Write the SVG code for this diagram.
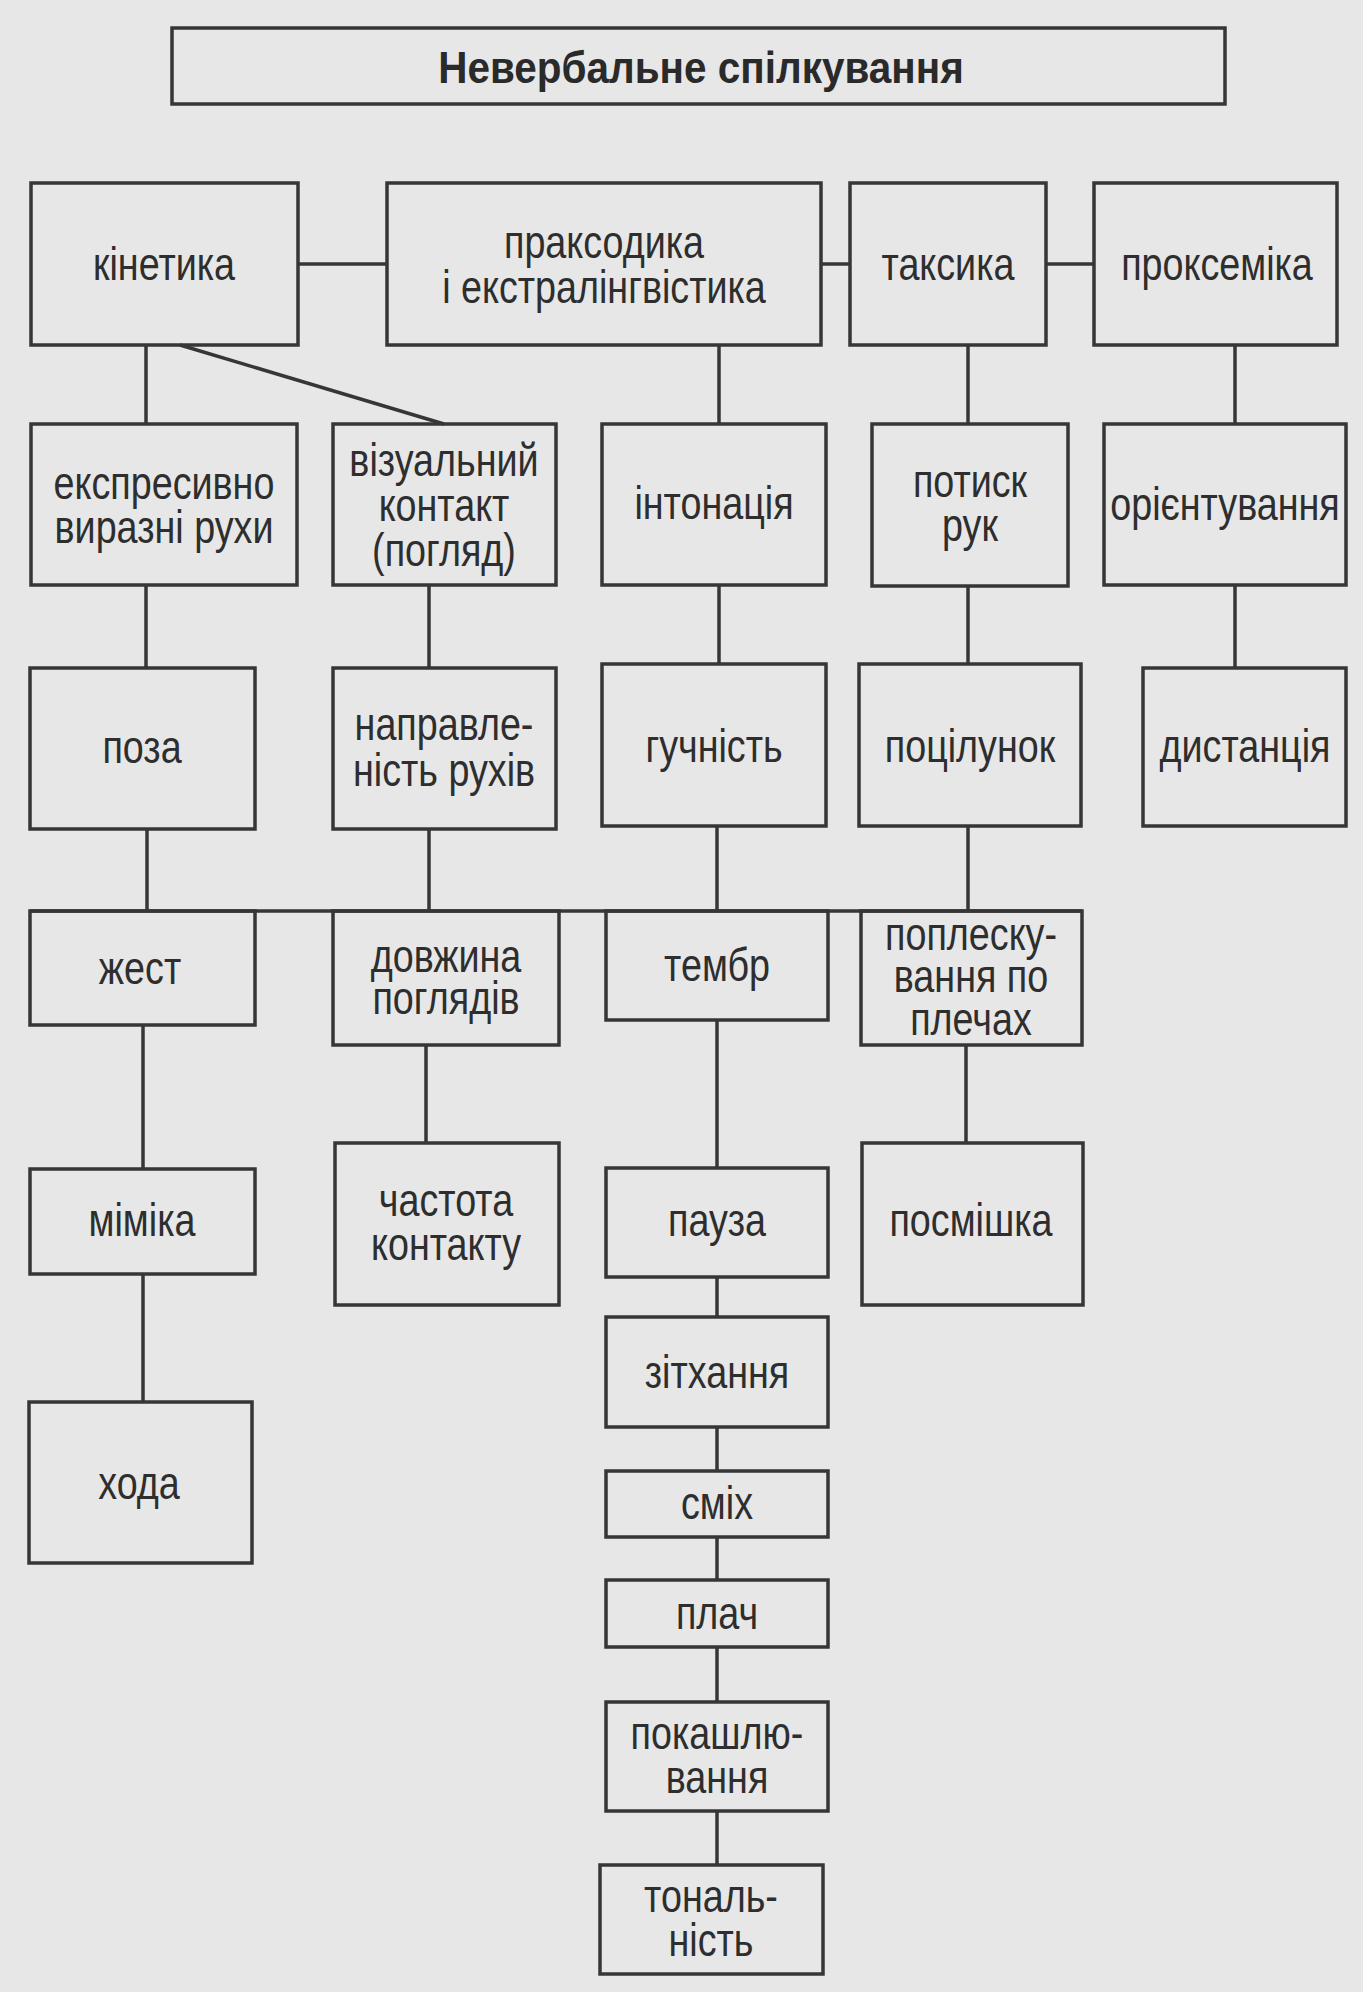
<svg xmlns="http://www.w3.org/2000/svg" width="1363" height="1992" viewBox="0 0 1363 1992">
<style>
.bg{fill:#e7e7e7}
.box{fill:none;stroke:#363636;stroke-width:3.5}
.ln{stroke:#363636;stroke-width:3.5;fill:none}
.t{font-family:"Liberation Sans",Arial,sans-serif;font-size:46px;fill:#2e2e2e;text-anchor:middle}
.title{font-family:"Liberation Sans",Arial,sans-serif;font-size:44px;font-weight:bold;fill:#2a2a2a;text-anchor:middle}
</style>
<rect class="bg" x="0" y="0" width="1363" height="1992"/>
<g id="connectors">
<line class="ln" x1="298" y1="264" x2="387" y2="264"/>
<line class="ln" x1="821" y1="264" x2="850" y2="264"/>
<line class="ln" x1="1046" y1="264" x2="1094" y2="264"/>
<line class="ln" x1="146" y1="345" x2="146" y2="424"/>
<line class="ln" x1="180" y1="345" x2="444" y2="424"/>
<line class="ln" x1="719" y1="345" x2="719" y2="424"/>
<line class="ln" x1="968" y1="345" x2="968" y2="424"/>
<line class="ln" x1="1235" y1="345" x2="1235" y2="424"/>
<line class="ln" x1="146" y1="585" x2="146" y2="668"/>
<line class="ln" x1="429" y1="585" x2="429" y2="668"/>
<line class="ln" x1="719" y1="585" x2="719" y2="664"/>
<line class="ln" x1="968" y1="585" x2="968" y2="664"/>
<line class="ln" x1="1235" y1="585" x2="1235" y2="668"/>
<line class="ln" x1="147" y1="829" x2="147" y2="911"/>
<line class="ln" x1="429" y1="829" x2="429" y2="911"/>
<line class="ln" x1="717" y1="826" x2="717" y2="911"/>
<line class="ln" x1="968" y1="826" x2="968" y2="911"/>
<line class="ln" x1="30" y1="911" x2="1082" y2="911"/>
<line class="ln" x1="143" y1="1025" x2="143" y2="1169"/>
<line class="ln" x1="426" y1="1045" x2="426" y2="1143"/>
<line class="ln" x1="717" y1="1020" x2="717" y2="1168"/>
<line class="ln" x1="966" y1="1045" x2="966" y2="1143"/>
<line class="ln" x1="143" y1="1274" x2="143" y2="1402"/>
<line class="ln" x1="717" y1="1277" x2="717" y2="1317"/>
<line class="ln" x1="717" y1="1427" x2="717" y2="1471"/>
<line class="ln" x1="717" y1="1537" x2="717" y2="1580"/>
<line class="ln" x1="717" y1="1647" x2="717" y2="1702"/>
<line class="ln" x1="717" y1="1811" x2="717" y2="1865"/>
</g>
<g id="title"><rect class="box" x="172" y="28" width="1053" height="76"/><text class="title" transform="translate(701 83) scale(0.92 1)">Невербальне спілкування</text></g>
<g id="kinetyka"><rect class="box" x="31" y="183" width="267" height="162"/><text class="t" transform="translate(164 280) scale(0.82 1)">кінетика</text></g>
<g id="praksodyka"><rect class="box" x="387" y="183" width="434" height="162"/><text class="t" transform="translate(604 258) scale(0.82 1)">праксодика</text><text class="t" transform="translate(604 303) scale(0.82 1)">і екстралінгвістика</text></g>
<g id="taksyka"><rect class="box" x="850" y="183" width="196" height="162"/><text class="t" transform="translate(948 280) scale(0.82 1)">таксика</text></g>
<g id="proksemika"><rect class="box" x="1094" y="183" width="243" height="162"/><text class="t" transform="translate(1217 280) scale(0.82 1)">проксеміка</text></g>
<g id="ekspresyvno"><rect class="box" x="31" y="424" width="266" height="161"/><text class="t" transform="translate(164 499) scale(0.82 1)">експресивно</text><text class="t" transform="translate(164 543) scale(0.82 1)">виразні рухи</text></g>
<g id="vizualnyi"><rect class="box" x="333" y="424" width="223" height="161"/><text class="t" transform="translate(444 476) scale(0.82 1)">візуальний</text><text class="t" transform="translate(444 521) scale(0.82 1)">контакт</text><text class="t" transform="translate(444 566) scale(0.82 1)">(погляд)</text></g>
<g id="intonatsiia"><rect class="box" x="602" y="424" width="224" height="161"/><text class="t" transform="translate(714 519) scale(0.82 1)">інтонація</text></g>
<g id="potysk"><rect class="box" x="872" y="424" width="196" height="162"/><text class="t" transform="translate(970 497) scale(0.82 1)">потиск</text><text class="t" transform="translate(970 541) scale(0.82 1)">рук</text></g>
<g id="oriientuvannia"><rect class="box" x="1104" y="424" width="242" height="161"/><text class="t" transform="translate(1225 520) scale(0.82 1)">орієнтування</text></g>
<g id="poza"><rect class="box" x="30" y="668" width="225" height="161"/><text class="t" transform="translate(142 763) scale(0.82 1)">поза</text></g>
<g id="napravlenist"><rect class="box" x="333" y="668" width="223" height="161"/><text class="t" transform="translate(444 740) scale(0.82 1)">направле-</text><text class="t" transform="translate(444 786) scale(0.82 1)">ність рухів</text></g>
<g id="guchnist"><rect class="box" x="602" y="664" width="224" height="162"/><text class="t" transform="translate(714 762) scale(0.82 1)">гучність</text></g>
<g id="potsilunok"><rect class="box" x="859" y="664" width="222" height="162"/><text class="t" transform="translate(970 762) scale(0.82 1)">поцілунок</text></g>
<g id="dystantsiia"><rect class="box" x="1143" y="668" width="203" height="158"/><text class="t" transform="translate(1245 762) scale(0.82 1)">дистанція</text></g>
<g id="zhest"><rect class="box" x="30" y="911" width="225" height="114"/><text class="t" transform="translate(140 984) scale(0.82 1)">жест</text></g>
<g id="dovzhyna"><rect class="box" x="333" y="911" width="226" height="134"/><text class="t" transform="translate(446 972) scale(0.82 1)">довжина</text><text class="t" transform="translate(446 1014) scale(0.82 1)">поглядів</text></g>
<g id="tembr"><rect class="box" x="606" y="911" width="222" height="109"/><text class="t" transform="translate(717 981) scale(0.82 1)">тембр</text></g>
<g id="poplesk"><rect class="box" x="861" y="911" width="221" height="134"/><text class="t" transform="translate(971 950) scale(0.82 1)">поплеску-</text><text class="t" transform="translate(971 992) scale(0.82 1)">вання по</text><text class="t" transform="translate(971 1035) scale(0.82 1)">плечах</text></g>
<g id="mimika"><rect class="box" x="30" y="1169" width="225" height="105"/><text class="t" transform="translate(142 1236) scale(0.82 1)">міміка</text></g>
<g id="chastota"><rect class="box" x="335" y="1143" width="224" height="162"/><text class="t" transform="translate(446 1216) scale(0.82 1)">частота</text><text class="t" transform="translate(446 1260) scale(0.82 1)">контакту</text></g>
<g id="pauza"><rect class="box" x="606" y="1168" width="222" height="109"/><text class="t" transform="translate(717 1236) scale(0.82 1)">пауза</text></g>
<g id="posmishka"><rect class="box" x="862" y="1143" width="221" height="162"/><text class="t" transform="translate(971 1236) scale(0.82 1)">посмішка</text></g>
<g id="khoda"><rect class="box" x="29" y="1402" width="223" height="161"/><text class="t" transform="translate(139 1499) scale(0.82 1)">хода</text></g>
<g id="zitkhannia"><rect class="box" x="606" y="1317" width="222" height="110"/><text class="t" transform="translate(717 1388) scale(0.82 1)">зітхання</text></g>
<g id="smikh"><rect class="box" x="606" y="1471" width="222" height="66"/><text class="t" transform="translate(717 1519) scale(0.82 1)">сміх</text></g>
<g id="plach"><rect class="box" x="606" y="1580" width="222" height="67"/><text class="t" transform="translate(717 1629) scale(0.82 1)">плач</text></g>
<g id="pokashliuvannia"><rect class="box" x="606" y="1702" width="222" height="109"/><text class="t" transform="translate(717 1749) scale(0.82 1)">покашлю-</text><text class="t" transform="translate(717 1793) scale(0.82 1)">вання</text></g>
<g id="tonalnist"><rect class="box" x="600" y="1865" width="223" height="109"/><text class="t" transform="translate(711 1912) scale(0.82 1)">тональ-</text><text class="t" transform="translate(711 1956) scale(0.82 1)">ність</text></g>
</svg>
